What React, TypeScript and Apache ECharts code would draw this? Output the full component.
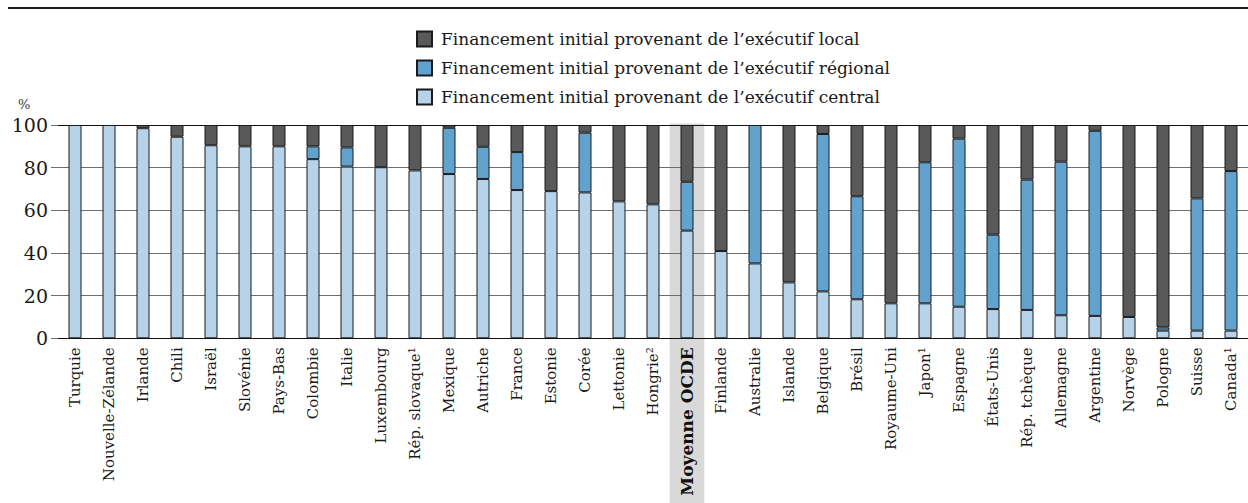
import React, { useEffect, useRef } from "react";
import * as echarts from "echarts";

const categories = [
  "Turquie", "Nouvelle-Zélande", "Irlande", "Chili", "Israël", "Slovénie", "Pays-Bas", "Colombie",
  "Italie", "Luxembourg", "Rép. slovaque¹", "Mexique", "Autriche", "France", "Estonie", "Corée",
  "Lettonie", "Hongrie²", "Moyenne OCDE", "Finlande", "Australie", "Islande", "Belgique", "Brésil",
  "Royaume-Uni", "Japon¹", "Espagne", "États-Unis", "Rép. tchèque", "Allemagne", "Argentine",
  "Norvège", "Pologne", "Suisse", "Canada¹",
];

const centralValues = [
  100, 100, 98.5, 94.5, 90.5, 90, 90, 84, 80.5, 80.2, 78.7, 77, 74.7, 69.5, 69, 68.4, 64.2, 62.8,
  50.5, 40.9, 35.1, 26.2, 22, 18.3, 16.4, 16.4, 14.8, 13.7, 13.3, 10.8, 10.5, 10, 3.6, 3.6, 3.6,
];
const regionalValues = [
  null, null, null, null, null, null, null, 6, 9, null, null, 21.7, 15.1, 17.8, null, 28, null, null,
  22.9, null, 64.9, null, 73.8, 48.3, null, 66.1, 78.8, 34.9, 61.1, 72, 86.8, null, 1.5, 62, 74.8,
];
const localValues = [
  null, null, 1.5, 5.5, 9.5, 10, 10, 10, 10.5, 19.8, 21.3, 1.3, 10.2, 12.7, 31, 3.6, 35.8, 37.2,
  26.6, 59.1, null, 73.8, 4.2, 33.4, 83.6, 17.5, 6.4, 51.4, 25.6, 17.2, 2.7, 90, 94.9, 34.4, 21.6,
];

const yTicks = [0, 20, 40, 60, 80, 100];

const seriesNames = {
  local: "Financement initial provenant de l’exécutif local",
  regional: "Financement initial provenant de l’exécutif régional",
  central: "Financement initial provenant de l’exécutif central",
};

const highlightCategory = "Moyenne OCDE";

const FONT = "DejaVu Serif";
const COLORS = { local: "#58595b", regional: "#62a2cf", central: "#b6d3ea" };

export default function App() {
  const ref = useRef<HTMLDivElement>(null);

  useEffect(() => {
    document.body.style.margin = "0";
    if (!ref.current) return;
    const chart = echarts.init(ref.current, null, { renderer: "svg" });

    const gridTop = 125;
    const gridHeight = 213.3;
    const barItem = (color: string) => ({ color, borderColor: "#1b1b1b", borderWidth: 1 });

    chart.setOption({
      animation: false,
      textStyle: { fontFamily: FONT },
      legend: {
        orient: "vertical",
        left: 416,
        top: 29,
        padding: 0,
        itemWidth: 15,
        itemHeight: 15,
        itemGap: 9,
        icon: "rect",
        selectedMode: false,
        data: [seriesNames.local, seriesNames.regional, seriesNames.central],
        textStyle: { fontFamily: FONT, fontSize: 17, color: "#1a1a1a", lineHeight: 20, padding: [0, 0, 0, 4] },
      },
      grid: { left: 58, top: gridTop, width: 35 * 34.1, height: gridHeight },
      xAxis: {
        type: "category",
        data: categories,
        axisLine: { show: true, lineStyle: { color: "#111", width: 1 } },
        axisTick: { show: false },
        axisLabel: {
          rotate: 90,
          interval: 0,
          margin: 9,
          fontFamily: FONT,
          fontSize: 15,
          color: "#1a1a1a",
          formatter: (v: string) => (v === highlightCategory ? `{b|${v}}` : v),
          rich: { b: { fontFamily: FONT, fontSize: 17, fontWeight: "bold", color: "#111" } },
        },
      },
      yAxis: {
        type: "value",
        min: yTicks[0],
        max: yTicks[yTicks.length - 1],
        interval: 20,
        axisLine: { show: false },
        axisTick: { show: true, length: 7, lineStyle: { color: "#6f6f6f" } },
        axisLabel: { margin: 10, fontFamily: FONT, fontSize: 19, color: "#1a1a1a" },
        splitLine: {
          show: true,
          lineStyle: { color: ["#111", "#6f6f6f", "#6f6f6f", "#6f6f6f", "#6f6f6f", "#111"], width: 1 },
        },
      },
      series: [
        { name: seriesNames.central, type: "bar", stack: "s", barWidth: 13, data: centralValues, itemStyle: barItem(COLORS.central) },
        { name: seriesNames.regional, type: "bar", stack: "s", barWidth: 13, data: regionalValues, itemStyle: barItem(COLORS.regional) },
        { name: seriesNames.local, type: "bar", stack: "s", barWidth: 13, data: localValues, itemStyle: barItem(COLORS.local) },
      ],
    });

    const cx = chart.convertToPixel({ xAxisIndex: 0 }, highlightCategory) as number;
    const bandW = 34.6;
    chart.setOption({
      graphic: [
        {
          type: "rect",
          z: -10,
          silent: true,
          shape: { x: cx - bandW / 2, y: gridTop - 1.5, width: bandW, height: 503 - gridTop + 2 },
          style: { fill: "#d9d9da" },
        },
        {
          type: "line",
          silent: true,
          shape: { x1: 8, y1: 8, x2: 1248, y2: 8 },
          style: { stroke: "#1a1a1a", lineWidth: 2 },
        },
        {
          type: "text",
          silent: true,
          x: 18,
          y: 98,
          style: { text: "%", fontFamily: FONT, fontSize: 13, fill: "#333" },
        },
      ],
    });

    return () => chart.dispose();
  }, []);

  return <div ref={ref} style={{ width: 1248, height: 503 }} />;
}
